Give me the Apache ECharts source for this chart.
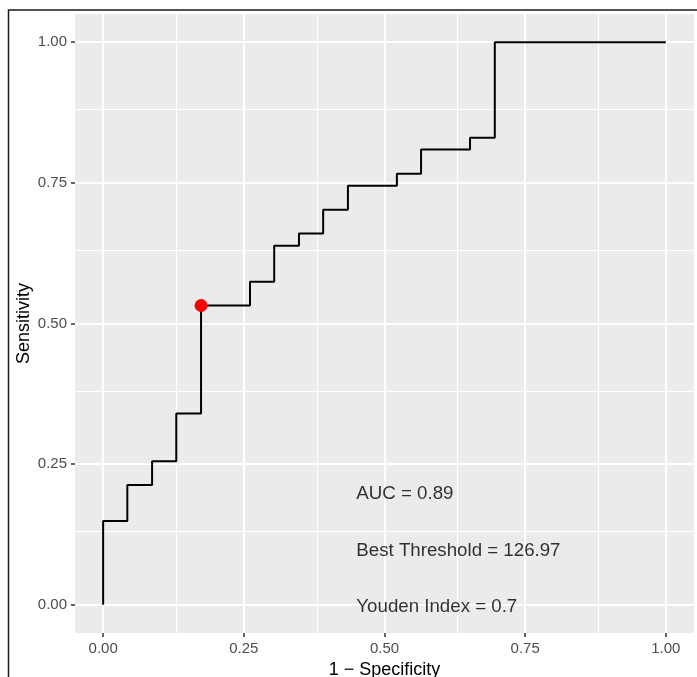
<!DOCTYPE html>
<html>
<head>
<meta charset="utf-8">
<script src="https://cdn.jsdelivr.net/npm/echarts@6/dist/echarts.min.js"></script>
<style>
  html, body { margin: 0; padding: 0; background: #fff; }
  #chart { width: 697px; height: 677px; }
</style>
</head>
<body>
<div id="chart"></div>
<script>
// ROC curve, ggplot look
const tickValues = [0, 0.25, 0.5, 0.75, 1];
const minorValues = [0.125, 0.375, 0.625, 0.875];
const tickLabels = ['0.00', '0.25', '0.50', '0.75', '1.00'];

// corner points of the step curve (1 - specificity, sensitivity)
const fpr = [0, 0, 0.043, 0.043, 0.087, 0.087, 0.130, 0.130, 0.174, 0.174,
  0.261, 0.261, 0.304, 0.304, 0.348, 0.348, 0.391, 0.391, 0.435, 0.435,
  0.522, 0.522, 0.565, 0.565, 0.652, 0.652, 0.696, 0.696, 1.0];
const tpr = [0, 0.149, 0.149, 0.213, 0.213, 0.255, 0.255, 0.340, 0.340, 0.532,
  0.532, 0.574, 0.574, 0.638, 0.638, 0.660, 0.660, 0.702, 0.702, 0.745,
  0.745, 0.766, 0.766, 0.809, 0.809, 0.830, 0.830, 1.0, 1.0];

const bestPoint = [0.174, 0.532];

const noteX = [0.45, 0.45, 0.45];
const noteY = [0.2, 0.1, 0];
const noteText = ['AUC = 0.89', 'Best Threshold = 126.97', 'Youden Index = 0.7'];

const fontFamily = "'Liberation Sans', Arial, sans-serif";

const axisCommon = {
    type: 'value',
    min: -0.05,
    max: 1.05,
    nameLocation: 'middle',
    nameMoveOverlap: false,
    nameTextStyle: { color: '#000', fontSize: 18, fontFamily: fontFamily },
    axisLine: { show: false, onZero: false },
    axisTick: {
        show: true,
        customValues: tickValues,
        length: 4,
        lineStyle: { color: '#333333', width: 1.5 }
    },
    axisLabel: {
        customValues: tickValues,
        color: '#4d4d4d',
        fontSize: 15,
        fontFamily: fontFamily,
        margin: 8,
        formatter: function (v) {
            const i = tickValues.indexOf(v);
            return i >= 0 ? tickLabels[i] : '';
        }
    },
    splitLine: {
        show: true,
        lineStyle: { color: '#ffffff', width: 2 }
    }
};

const minorLines = [];
minorValues.forEach(function (v) {
    minorLines.push({ xAxis: v });
    minorLines.push({ yAxis: v });
});

const option = {
    backgroundColor: '#ffffff',
    animation: false,
    grid: {
        left: 75,
        right: 3,
        top: 14,
        bottom: 44,
        outerBoundsMode: 'none',
        containLabel: false,
        show: true,
        backgroundColor: '#ebebeb',
        borderWidth: 0
    },
    graphic: [{
        type: 'rect',
        shape: { x: 8.5, y: 10, width: 800, height: 800 },
        style: { fill: 'none', stroke: '#1a1a1a', lineWidth: 1.5 },
        silent: true
    }],
    xAxis: Object.assign({}, axisCommon, {
        name: '1 \u2212 Specificity',
        nameGap: 28
    }),
    yAxis: Object.assign({}, axisCommon, {
        name: 'Sensitivity',
        nameGap: 42
    }),
    series: [
        {
            type: 'line',
            data: [],
            z: 1,
            silent: true,
            markLine: {
                silent: true,
                z: 1,
                symbol: 'none',
                label: { show: false },
                lineStyle: { color: '#ffffff', width: 1, type: 'solid' },
                data: minorLines
            }
        },
        {
            type: 'line',
            z: 3,
            showSymbol: false,
            lineStyle: { color: '#000000', width: 2 },
            data: fpr.map(function (x, i) { return [x, tpr[i]]; })
        },
        {
            type: 'scatter',
            z: 4,
            symbolSize: 13,
            itemStyle: { color: '#ff0000', opacity: 1 },
            data: [bestPoint]
        },
        {
            type: 'scatter',
            z: 5,
            symbolSize: 0,
            label: {
                show: true,
                position: 'right',
                distance: 0,
                offset: [0, 2],
                color: '#000000',
                fontSize: 18.7,
                fontFamily: fontFamily,
                formatter: function (p) { return p.data[2]; }
            },
            data: noteX.map(function (x, i) { return [x, noteY[i], noteText[i]]; })
        }
    ]
};

const chart = echarts.init(document.getElementById('chart'));
chart.setOption(option);
</script>
</body>
</html>
